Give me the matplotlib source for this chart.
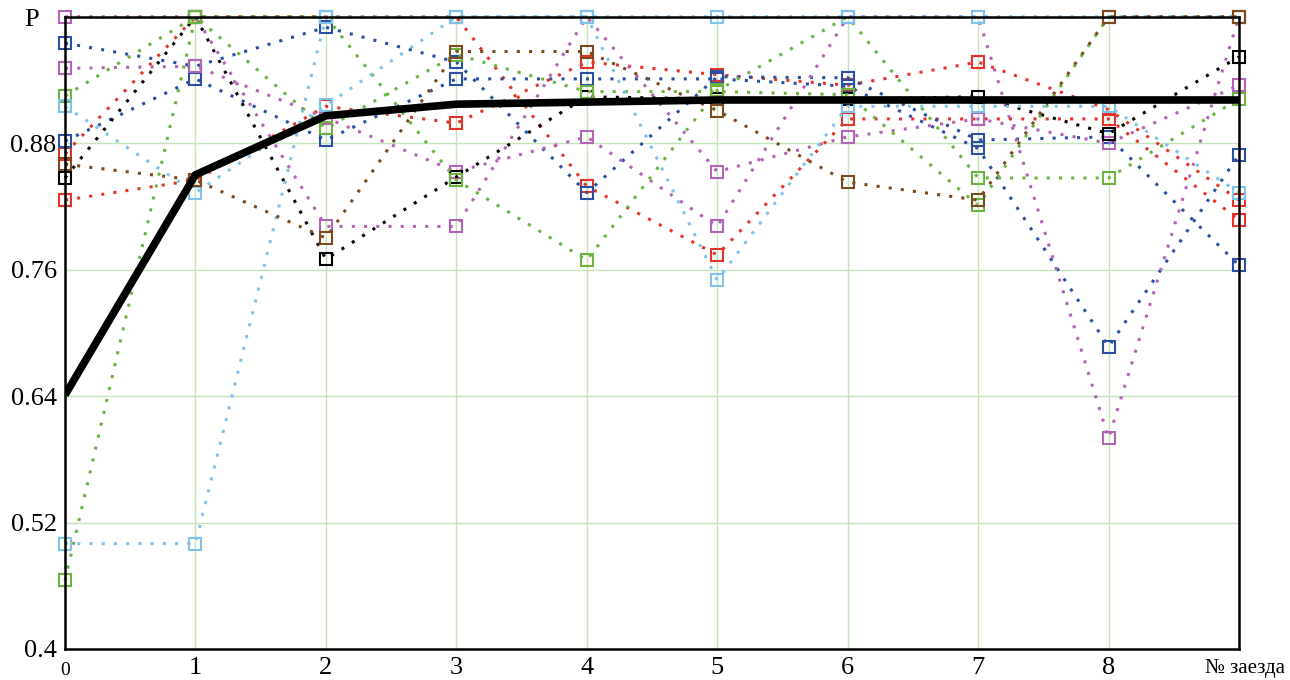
import matplotlib
matplotlib.use("Agg")
import matplotlib.pyplot as plt

# ============================================================
# DATA
# ============================================================

runs = [0, 1, 2, 3, 4, 5, 6, 7, 8, 9]

red1 = [0.870, 1.000, 1.000, 1.000, 0.839, 0.774, 0.903, 0.903, 0.903, 0.807]
red2 = [0.826, 0.845, 0.915, 0.899, 0.957, 0.945, 0.935, 0.957, 0.912, 0.826]
blue1 = [0.975, 0.953, 0.990, 0.957, 0.833, 0.943, 0.942, 0.883, 0.886, 0.764]
blue2 = [0.882, 0.941, 0.883, 0.941, 0.941, 0.941, 0.934, 0.875, 0.687, 0.869]
purple1 = [1.000, 1.000, 0.801, 0.801, 1.000, 0.853, 0.886, 0.903, 0.880, 0.935]
purple2 = [0.951, 0.953, 0.904, 0.853, 0.886, 0.801, 1.000, 1.000, 0.600, 1.000]
black = [0.847, 1.000, 0.770, 0.848, 0.924, 0.922, 0.922, 0.924, 0.889, 0.962]
green1 = [0.925, 1.000, 0.894, 0.964, 0.929, 0.929, 0.926, 0.821, 1.000, 1.000]
green2 = [0.465, 1.000, 1.000, 0.845, 0.769, 0.930, 1.000, 0.847, 0.847, 0.922]
lblue1 = [0.915, 0.833, 0.916, 1.000, 1.000, 0.750, 0.915, 0.915, 0.915, 0.833]
lblue2 = [0.500, 0.500, 1.000, 1.000, 1.000, 1.000, 1.000, 1.000, 1.000, 1.000]
brown = [0.860, 0.845, 0.790, 0.967, 0.967, 0.911, 0.843, 0.826, 1.000, 1.000]
mean_p = [0.641, 0.850, 0.906, 0.917, 0.919, 0.921, 0.921, 0.921, 0.921, 0.921]

y_ticks = [0.4, 0.52, 0.64, 0.76, 0.88]
y_tick_labels = ["0.4", "0.52", "0.64", "0.76", "0.88"]
x_tick_labels = ["1", "2", "3", "4", "5", "6", "7", "8"]

RED = "#e5332a"
BLUE = "#2b4fa3"
GREEN = "#6cb33f"
PURPLE = "#b464b4"
LBLUE = "#7fc3ea"
BROWN = "#7b4b1f"

# draw order matters: later series sit on top at shared points
series = [
    (red1, RED), (red2, RED),
    (blue1, BLUE), (blue2, BLUE),
    (purple1, PURPLE), (purple2, PURPLE),
    (black, "black"),
    (green1, GREEN), (green2, GREEN),
    (lblue1, LBLUE), (lblue2, LBLUE),
    (brown, BROWN),
]

plt.rcParams["font.family"] = ["Liberation Serif", "DejaVu Serif"]

fig = plt.figure(figsize=(12.9, 6.8), dpi=100)
ax = fig.add_axes([0.0504, 0.0456, 0.9101, 0.9298])

for vals, col in series:
    ax.plot(runs, vals, color=col, lw=2.2, linestyle=(0, (1, 3)),
            marker="s", ms=8.5, mfc="none", mec=col, mew=1.5,
            zorder=3, clip_on=False)

ax.plot(runs, mean_p, color="black", lw=5.5, solid_capstyle="butt", zorder=5)

ax.set_xlim(0, 9)
ax.set_ylim(0.4, 1.0)

ax.set_xticks(range(0, 10))
ax.set_xticklabels([""] * 10)
ax.set_yticks(y_ticks + [1.0])
ax.set_yticklabels(y_tick_labels + [""], fontsize=19)
ax.tick_params(length=0, pad=6)
ax.grid(True, color="#c4e4bc", lw=1.0, zorder=0)

# axis caption "P" sits in the top-left corner instead of 1.0
fig.text(32 / 1290, 1 - 20 / 680, "P", ha="center", va="center", fontsize=19)

# x labels placed by hand: small "0", regular 1..8, axis title at the end
ax.text(0, -0.02, "0", transform=ax.get_xaxis_transform(),
        ha="center", va="top", fontsize=14)
for i, lab in enumerate(x_tick_labels, start=1):
    ax.text(i, -0.012, lab, transform=ax.get_xaxis_transform(),
            ha="center", va="top", fontsize=19)
fig.text(1285 / 1290, 1 - 668 / 680, "№ заезда", ha="right", va="center",
         fontsize=15)

for s in ax.spines.values():
    s.set_color("black")
    s.set_linewidth(1.8)
    s.set_zorder(6)

fig.savefig("out.png", dpi=100)
